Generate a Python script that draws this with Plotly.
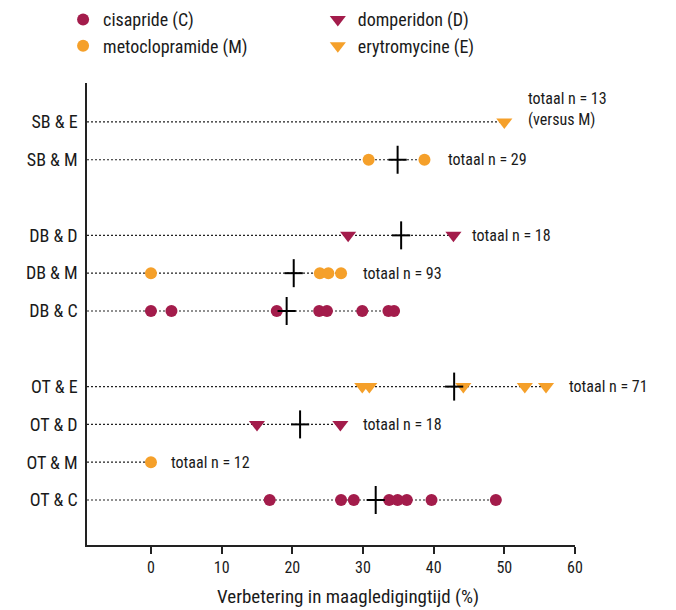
import plotly.graph_objects as go

# ---- data ----
row_labels = ["OT & C", "OT & M", "OT & D", "OT & E", "DB & C", "DB & M", "DB & D", "SB & M", "SB & E"]
row_pos = [0, 1, 2, 3, 5, 6, 7, 9, 10]
row_drug = ["C", "M", "D", "E", "C", "M", "D", "M", "E"]
row_values = [
    [16.8, 26.9, 28.7, 33.7, 34.9, 36.2, 39.7, 48.8],
    [0],
    [15.0, 26.8],
    [29.9, 30.9, 44.2, 52.9, 55.9],
    [0, 2.9, 17.8, 23.8, 24.9, 29.9, 33.6, 34.4],
    [0, 23.9, 25.1, 26.9],
    [27.9, 42.8],
    [30.8, 38.7],
    [50.0],
]
row_mean = [31.8, None, 21.1, 42.9, 19.2, 20.2, 35.4, 34.9, None]
row_total = [None, "totaal n = 12", "totaal n = 18", "totaal n = 71",
             None, "totaal n = 93", "totaal n = 18", "totaal n = 29", "totaal n = 13<br>(versus M)"]
# text label x-positions (layout)
label_x = [None, 2.6, 29.7, 58.9, None, 29.7, 45.1, 41.7, 53.1]

x_ticks = [0, 10, 20, 30, 40, 50, 60]
x_title = "Verbetering in maagledigingtijd (%)"

drugs = ["C", "D", "M", "E"]
drug_names = {"C": "cisapride (C)", "D": "domperidon (D)", "M": "metoclopramide (M)", "E": "erytromycine (E)"}
drug_color = {"C": "#A31C4B", "D": "#A31C4B", "M": "#F5A02A", "E": "#F5A02A"}
drug_symbol = {"C": "circle", "D": "triangle-down", "M": "circle", "E": "triangle-down"}
drug_legend = {"C": "legend", "M": "legend", "D": "legend2", "E": "legend2"}

x_range = [-9.05, 60]
FONT = "Liberation Sans Narrow, Roboto Condensed, Open Sans, sans-serif"
TXT = "#1a1a1a"

fig = go.Figure()

# dotted guide lines from axis to rightmost point
lx, ly = [], []
for p, vals in zip(row_pos, row_values):
    lx += [x_range[0], max(vals), None]
    ly += [p, p, None]
fig.add_trace(go.Scatter(x=lx, y=ly, mode="lines", showlegend=False, hoverinfo="skip",
                         line=dict(color="#222222", width=1.2, dash="2px,2px")))

# points per drug
for d in drugs:
    xs, ys = [], []
    for p, dd, vals in zip(row_pos, row_drug, row_values):
        if dd == d:
            xs += vals
            ys += [p] * len(vals)
    fig.add_trace(go.Scatter(
        x=xs, y=ys, mode="markers", name=drug_names[d], legend=drug_legend[d],
        marker=dict(symbol=drug_symbol[d], color=drug_color[d],
                    size=12 if drug_symbol[d] == "circle" else 14, line=dict(width=0))))

# mean crosses
mx = [m for m in row_mean if m is not None]
my = [p for p, m in zip(row_pos, row_mean) if m is not None]
fig.add_trace(go.Scatter(x=mx, y=my, mode="markers", showlegend=False, hoverinfo="skip",
                         marker=dict(symbol="line-ns", size=20, line=dict(color="black", width=2))))
fig.add_trace(go.Scatter(x=mx, y=my, mode="markers", showlegend=False, hoverinfo="skip",
                         marker=dict(symbol="line-ew", size=13, line=dict(color="black", width=2))))

# total labels
for p, t, x in zip(row_pos, row_total, label_x):
    if t is None:
        continue
    multi = "<br>" in t
    fig.add_annotation(x=x, y=p, text=t, showarrow=False, xanchor="left",
                       yanchor="middle", yshift=13 if multi else 0, align="left",
                       font=dict(family=FONT, size=16, color=TXT))

fig.add_annotation(xref="paper", yref="paper", x=0.535, y=-0.083, yanchor="top",
                   text=x_title, showarrow=False, font=dict(family=FONT, size=19, color=TXT))

fig.update_layout(
    width=668, height=602,
    margin=dict(l=79, r=101, t=75, b=65, autoexpand=False),
    paper_bgcolor="white", plot_bgcolor="white",
    font=dict(family=FONT, size=16, color=TXT),
    xaxis=dict(range=x_range, tickvals=x_ticks, ticks="outside",
               ticklen=7, tickwidth=1.5, tickcolor="#222", showline=True, linecolor="#222",
               linewidth=1.5, showgrid=False, zeroline=False, automargin=False,
               tickfont=dict(family=FONT, size=16, color=TXT)),
    yaxis=dict(range=[-1.19, 11.03], tickvals=row_pos, ticktext=row_labels, ticks="",
               showline=True, linecolor="#222", linewidth=1.5, showgrid=False, zeroline=False,
               automargin=False, ticklabelstandoff=4, tickfont=dict(family=FONT, size=18, color=TXT)),
    legend=dict(x=-0.049, y=1.177, xanchor="left", yanchor="top", orientation="v",
                font=dict(family=FONT, size=18, color=TXT), bgcolor="rgba(0,0,0,0)"),
    legend2=dict(x=0.473, y=1.177, xanchor="left", yanchor="top", orientation="v",
                 font=dict(family=FONT, size=18, color=TXT), bgcolor="rgba(0,0,0,0)"),
)

fig.write_html("out.html")
